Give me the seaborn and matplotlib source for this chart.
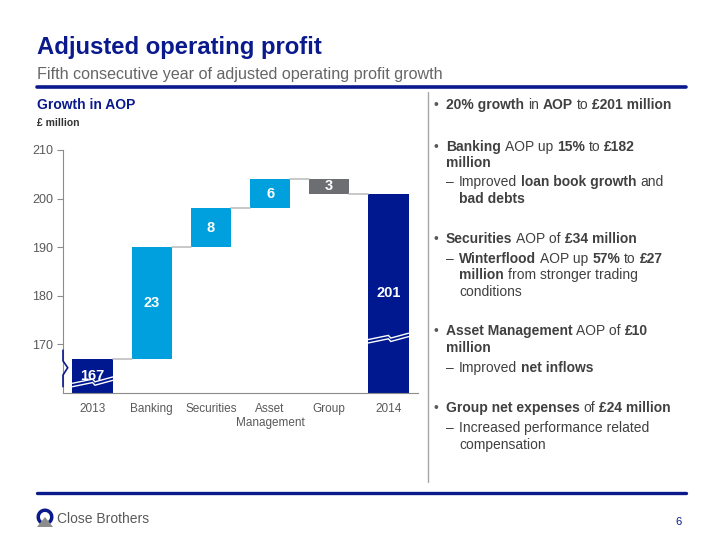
import numpy as np
import pandas as pd
import matplotlib.pyplot as plt
import matplotlib.patches as mpatches
import seaborn as sns

# data
categories = ["2013", "Banking", "Securities", "Asset\nManagement", "Group", "2014"]
start_value = 167
step_values = [23, 8, 6, -3]
end_value = 201
y_ticks = [170, 180, 190, 200, 210]

NAVY = "#0A1A8C"
BAR_NAVY = "#00188F"
LIGHT = "#00A0DF"
GREY_BAR = "#6D6E71"
TXT = "#404040"

sns.set_theme(style="white")
plt.rcParams["font.family"] = ["Liberation Sans", "DejaVu Sans"]

# waterfall levels
lows, highs = [0], [start_value]
level = start_value
for v in step_values:
    new = level + v
    lows.append(min(level, new))
    highs.append(max(level, new))
    level = new
lows.append(0)
highs.append(end_value)
labels = [start_value] + [abs(v) for v in step_values] + [end_value]
colors = [BAR_NAVY] + [LIGHT if v > 0 else GREY_BAR for v in step_values] + [BAR_NAVY]

df = pd.DataFrame({"cat": categories, "low": lows, "high": highs})

fig = plt.figure(figsize=(7.2, 5.4), dpi=100)


def fx(x):
    return x / 720


def fy(y):
    return 1 - y / 540


ax = fig.add_axes([fx(63), fy(393), fx(418) - fx(63), fy(150) - fy(393)])
bw = 0.68
sns.barplot(data=df, x="cat", y="high", hue="cat", palette=dict(zip(categories, colors)),
            width=bw, linewidth=0, saturation=1, legend=False, ax=ax)
sns.barplot(data=df, x="cat", y="low", color="white", width=bw + 0.02,
            linewidth=0, saturation=1, ax=ax)
ax.set_ylim(160, 210)
ax.set_xlim(-0.5, len(categories) - 0.5)
ax.set_xlabel("")
ax.set_ylabel("")
ax.set_yticks(y_ticks)
ax.set_xticks(range(len(categories)))
ax.set_xticklabels(categories)
ax.set_xticks(np.arange(-0.5, len(categories)), minor=True)
ax.tick_params(axis="x", which="major", length=0, pad=7, labelsize=8.5, labelcolor="#595959")
ax.tick_params(axis="x", which="minor", length=4, width=0.8, color="#8C8C8C", direction="out")
ax.tick_params(axis="y", length=4, width=0.8, color="#8C8C8C", direction="out",
               labelsize=9, labelcolor="#595959", pad=3, left=True)
for s in ["top", "right"]:
    ax.spines[s].set_visible(False)
for s in ["left", "bottom"]:
    ax.spines[s].set_color("#8C8C8C")
    ax.spines[s].set_linewidth(0.8)

# connectors
levels = [start_value]
lv = start_value
for v in step_values:
    lv += v
    levels.append(lv)
for i, l in enumerate(levels):
    ax.plot([i + bw / 2, i + 1 - bw / 2], [l, l], color="#BFBFBF", lw=1.2, zorder=1)

# value labels
for i, (lo, hi, lab) in enumerate(zip(lows, highs, labels)):
    base = max(lo, 160)
    ax.text(i, (base + hi) / 2, str(lab), ha="center", va="center",
            color="white", fontsize=10.5, fontweight="bold")


# break marks
def break_mark(xc, yc):
    xs = [xc - bw / 2, xc, xc + 0.04, xc + bw / 2]
    for off in (0, 0.7):
        ys = [yc - 0.9 + off, yc - 0.05 + off, yc - 0.6 + off, yc + 0.4 + off]
        ax.plot(xs, ys, color="white", lw=1.0, zorder=5, solid_joinstyle="miter")


break_mark(0, 162.2)
break_mark(5, 171.2)

# axis break symbol
ax.plot([-0.5, -0.5, -0.42, -0.5, -0.5], [168.8, 166.6, 165.2, 163.7, 161.3],
        color=NAVY, lw=1.2, clip_on=False, zorder=6)

# headings
fig.text(fx(37), fy(54), "Adjusted operating profit", fontsize=17.2, fontweight="bold", color=NAVY)
fig.text(fx(37), fy(79), "Fifth consecutive year of adjusted operating profit growth",
         fontsize=11.6, color="#666666")
fig.add_artist(plt.Line2D([fx(37), fx(686)], [fy(86.5), fy(86.5)], color=NAVY, lw=2.6))
fig.add_artist(plt.Line2D([fx(37), fx(686)], [fy(493), fy(493)], color=NAVY, lw=2.4))
fig.add_artist(plt.Line2D([fx(428), fx(428)], [fy(92), fy(482)], color="#A6A6A6", lw=1))
fig.text(fx(37), fy(109), "Growth in AOP", fontsize=10, fontweight="bold", color=NAVY)
fig.text(fx(37), fy(126), "£ million", fontsize=7.5, fontweight="bold", color="#333333")

# footer logo (pixel units via inches at 100 dpi)
tr = fig.dpi_scale_trans


def pin(x, y):
    return (x / 100, (540 - y) / 100)


fig.add_artist(mpatches.Wedge(pin(45, 517), 0.085, -55, 235, width=0.035,
                              transform=tr, facecolor=NAVY, edgecolor="none"))
fig.add_artist(mpatches.Polygon([pin(37, 527), pin(45, 517), pin(53, 527)], closed=True,
                                transform=tr, facecolor="#8C8C8C", edgecolor="none"))
fig.text(fx(57), fy(523), "Close Brothers", fontsize=10, color="#595959")
fig.text(fx(679), fy(525), "6", fontsize=8, color=NAVY, ha="center")

# bullet text
renderer = fig.canvas.get_renderer()
FS = 10


def text_w(s, weight):
    t = fig.text(0, 0, s, fontsize=FS, fontweight=weight)
    w = t.get_window_extent(renderer=renderer).width
    t.remove()
    return w


space_w = {w: text_w("a a", w) - text_w("aa", w) for w in ("normal", "bold")}


def rich_line(x, y, segs):
    cx = x
    for txt, bold in segs:
        w = "bold" if bold else "normal"
        lead = len(txt) - len(txt.lstrip(" "))
        trail = len(txt) - len(txt.rstrip(" "))
        core = txt.strip(" ")
        cx += lead * space_w[w]
        t = fig.text(fx(cx), fy(y), core, fontsize=FS, fontweight=w, color=TXT,
                     ha="left", va="baseline")
        cx += t.get_window_extent(renderer=renderer).width + trail * space_w[w]


B, R = True, False
lines = [
    ("bullet", 109, [("20% growth", B), (" in ", R), ("AOP", B), (" to ", R), ("£201 million", B)]),
    ("bullet", 151, [("Banking", B), (" AOP up ", R), ("15%", B), (" to ", R), ("£182", B)]),
    ("cont", 167, [("million", B)]),
    ("dash", 186, [("Improved ", R), ("loan book growth", B), (" and", R)]),
    ("cont2", 203, [("bad debts", B)]),
    ("bullet", 243, [("Securities", B), (" AOP of ", R), ("£34 million", B)]),
    ("dash", 263, [("Winterflood", B), (" AOP up ", R), ("57%", B), (" to ", R), ("£27", B)]),
    ("cont2", 279, [("million", B), (" from stronger trading", R)]),
    ("cont2", 296, [("conditions", R)]),
    ("bullet", 335, [("Asset Management", B), (" AOP of ", R), ("£10", B)]),
    ("cont", 352, [("million", B)]),
    ("dash", 372, [("Improved ", R), ("net inflows", B)]),
    ("bullet", 412, [("Group net expenses", B), (" of ", R), ("£24 million", B)]),
    ("dash", 432, [("Increased performance related", R)]),
    ("cont2", 449, [("compensation", R)]),
]
for kind, y, segs in lines:
    if kind == "bullet":
        fig.text(fx(433), fy(y), "•", fontsize=FS, color="#595959", va="baseline")
        rich_line(446, y, segs)
    elif kind == "cont":
        rich_line(446, y, segs)
    elif kind == "dash":
        fig.text(fx(446), fy(y), "–", fontsize=FS, color=TXT, va="baseline")
        rich_line(459, y, segs)
    else:
        rich_line(459, y, segs)

fig.savefig("out.png", dpi=100)
